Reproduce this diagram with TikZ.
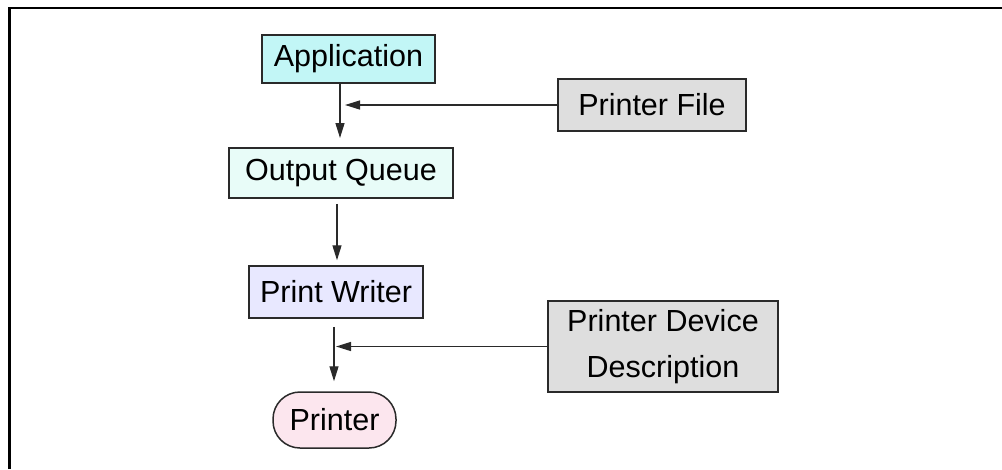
\documentclass[tikz,border=0pt]{standalone}
\usepackage{fontspec}
\setmainfont{Liberation Sans}
\usetikzlibrary{arrows.meta,calc}
\definecolor{appfill}{HTML}{C2F6F6}
\definecolor{oqfill}{HTML}{E8FCF8}
\definecolor{pwfill}{HTML}{E8E8FF}
\definecolor{prfill}{HTML}{FCE6EE}
\definecolor{grfill}{HTML}{DEDEDE}
\definecolor{lncol}{HTML}{2A2A2A}
\tikzset{
  x=1pt,y=1pt,
  box/.style={draw=lncol,line width=1.5pt,inner sep=0pt,font=\fontsize{30.5}{46}\selectfont,align=center},
  arr/.style={draw=lncol,line width=1.4pt,-{Triangle[length=15pt,width=9pt]}},
  frame/.style={line width=2.6pt,black}
}
\begin{document}
\begin{tikzpicture}
\useasboundingbox (0,0) rectangle (1002,-469);
\draw[frame] (9.5,-469) -- (9.5,-8) -- (1002,-8);
\node[box,fill=appfill,minimum width=173pt,minimum height=48pt] (app) at (348.5,-59) {Application};
\node[box,fill=oqfill,minimum width=224pt,minimum height=50pt] (oq) at (341,-173) {Output Queue};
\node[box,fill=pwfill,minimum width=174pt,minimum height=52pt] (pw) at (336,-292) {Print Writer};
\node[box,fill=prfill,minimum width=123pt,minimum height=56pt,rounded corners=27pt] (pr) at (334.5,-420) {Printer};
\node[box,fill=grfill,minimum width=188pt,minimum height=52pt] (pf) at (652,-105) {Printer File};
\node[box,fill=grfill,minimum width=230pt,minimum height=91pt] (pdd) at (663,-346.5) {Printer Device\\Description};
\coordinate (pfend) at (345,-105);
\coordinate (pddend) at (336,-346.5);
\draw[arr] (app.south -| 340,0) -- (340,-138);
\draw[arr] (pf.west) -- (pfend);
\draw[arr] ($(oq.south)+(-4,-5)$) -- ($(pw.north)+(1,5)$);
\draw[arr] ($(pw.south)+(-2,-8)$) -- ($(pr.north)+(-0.5,10)$);
\draw[arr] (pdd.west) -- (pddend);
\end{tikzpicture}
\end{document}
